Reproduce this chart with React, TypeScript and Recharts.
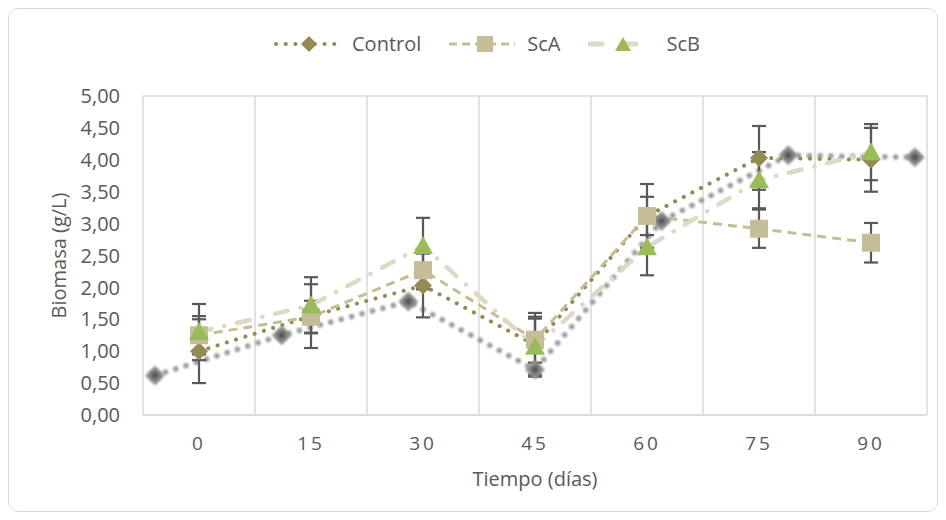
import React from "react";
import { ComposedChart, Line, XAxis, YAxis, CartesianGrid, ErrorBar } from "recharts";

const days = ["0", "15", "30", "45", "60", "75", "90"];
const control = [1.0, 1.55, 2.03, 1.1, 3.12, 4.03, 4.0];
const controlErr = [0.5, 0.5, 0.5, 0.5, 0.5, 0.5, 0.5];
const scA = [1.25, 1.54, 2.27, 1.18, 3.12, 2.92, 2.7];
const scAErr = [0.3, 0.25, 0.3, 0.36, 0.3, 0.3, 0.31];
const scB = [1.3, 1.72, 2.65, 1.07, 2.63, 3.68, 4.12];
const scBErr = [0.44, 0.44, 0.44, 0.44, 0.44, 0.44, 0.44];
// blurred drop shadow of the Control series, stretched a little wider than the plot
const shadow = [0.62, 1.25, 1.78, 0.71, 3.04, 4.07, 4.04];
const yTicks = [0, 0.5, 1, 1.5, 2, 2.5, 3, 3.5, 4, 4.5, 5];

const rows = days.map((d, i) => ({
  day: d,
  control: control[i],
  controlErr: controlErr[i],
  scA: scA[i],
  scAErr: scAErr[i],
  scB: scB[i],
  scBErr: scBErr[i],
}));
const shadowRows = shadow.map((v, i) => ({ idx: i, shadow: v }));

const FONT = "'Open Sans', sans-serif";
const TEXT = "#595959";
const GRID = "#d9d9d9";
const OLIVE = "#948a54";
const TAN = "#c4bd97";
const PALE = "#ddd9c3";
const GREEN = "#9bbb59";
const BAR = "#595959";

function diamondDot(color: string, r: number, extra?: Record<string, string>) {
  return (props: any) => {
    const { cx, cy, index } = props;
    if (cx == null || cy == null) return <g key={index} />;
    return (
      <polygon
        key={index}
        points={`${cx},${cy - r} ${cx + r},${cy} ${cx},${cy + r} ${cx - r},${cy}`}
        fill={color}
        {...extra}
      />
    );
  };
}

function squareDot(color: string, r: number) {
  return (props: any) => {
    const { cx, cy, index } = props;
    if (cx == null || cy == null) return <g key={index} />;
    return <rect key={index} x={cx - r} y={cy - r} width={r * 2} height={r * 2} fill={color} />;
  };
}

function triangleDot(color: string, r: number) {
  return (props: any) => {
    const { cx, cy, index } = props;
    if (cx == null || cy == null) return <g key={index} />;
    return (
      <polygon
        key={index}
        points={`${cx},${cy - r} ${cx + r},${cy + r * 0.8} ${cx - r},${cy + r * 0.8}`}
        fill={color}
      />
    );
  };
}

const fmt = (v: number) => v.toFixed(2).replace(".", ",");

function LegendIcon({ kind }: { kind: "control" | "scA" | "scB" }) {
  return (
    <svg width={66} height={20} style={{ display: "block" }}>
      {kind === "control" && (
        <>
          <line x1={2} y1={10} x2={64} y2={10} stroke={OLIVE} strokeWidth={4} strokeDasharray="0.1 9.6" strokeLinecap="round" />
          <polygon points="35,2 43,10 35,18 27,10" fill={OLIVE} />
        </>
      )}
      {kind === "scA" && (
        <>
          <line x1={0} y1={10} x2={66} y2={10} stroke={TAN} strokeWidth={3} strokeDasharray="8 5" />
          <rect x={28} y={2} width={16} height={16} fill={TAN} />
        </>
      )}
      {kind === "scB" && (
        <>
          <line x1={2} y1={10} x2={62} y2={10} stroke={PALE} strokeWidth={5} strokeDasharray="12 22" strokeLinecap="round" />
          <polygon points="35,3 43,17 27,17" fill={GREEN} />
        </>
      )}
    </svg>
  );
}

const legendItems: { kind: "control" | "scA" | "scB"; label: string }[] = [
  { kind: "control", label: "Control" },
  { kind: "scA", label: "ScA" },
  { kind: "scB", label: "ScB" },
];

export default function App() {
  return (
    <div
      style={{
        position: "relative",
        width: 930,
        height: 504,
        border: `1px solid ${GRID}`,
        borderRadius: 10,
        boxSizing: "border-box",
        fontFamily: FONT,
        background: "#fff",
      }}
    >
      <div
        style={{
          position: "absolute",
          top: 25,
          left: 265,
          display: "flex",
          alignItems: "center",
          fontSize: 20,
          color: TEXT,
          lineHeight: "20px",
        }}
      >
        {legendItems.map((it) => (
          <div key={it.kind} style={{ display: "flex", alignItems: "center", marginRight: 28 }}>
            <LegendIcon kind={it.kind} />
            <span style={{ marginLeft: 12 }}>{it.label}</span>
          </div>
        ))}
      </div>
      <ComposedChart width={928} height={502} data={rows} margin={{ top: 87, right: 10, bottom: 0, left: 0 }}>
        <defs>
          <filter id="softBlur" x="-50%" y="-50%" width="200%" height="200%">
            <feGaussianBlur stdDeviation="1.3" />
          </filter>
          <radialGradient id="shadowFill">
            <stop offset="0%" stopColor="#404040" />
            <stop offset="45%" stopColor="#808080" />
            <stop offset="100%" stopColor="#a6a6a6" />
          </radialGradient>
        </defs>
        <CartesianGrid
          stroke={GRID}
          strokeWidth={1.5}
          verticalCoordinatesGenerator={({ offset }: any) =>
            days.map((_, i) => offset.left + (offset.width * i) / days.length).concat(offset.left + offset.width)
          }
          horizontalCoordinatesGenerator={({ offset }: any) => [offset.top, offset.top + offset.height]}
        />
        <XAxis
          dataKey="day"
          xAxisId="main"
          scale="band"
          height={96}
          axisLine={{ stroke: GRID, strokeWidth: 1.5 }}
          tickLine={false}
          tickSize={6}
          tickMargin={16}
          tick={{ fill: TEXT, fontSize: 19, fontFamily: FONT, letterSpacing: 3 }}
          label={({ viewBox }: any) => (
            <text
              x={viewBox.x + viewBox.width / 2}
              y={viewBox.y + 71}
              textAnchor="middle"
              fill={TEXT}
              fontSize={20}
              fontFamily={FONT}
            >
              Tiempo (días)
            </text>
          )}
        />
        <XAxis xAxisId="shade" type="number" dataKey="idx" domain={[-0.095, 6.095]} allowDataOverflow hide />
        <YAxis
          domain={[0, 5]}
          ticks={yTicks}
          width={134}
          axisLine={false}
          tickLine={false}
          tickSize={6}
          tickMargin={17}
          tickFormatter={fmt}
          tick={{ fill: TEXT, fontSize: 20, fontFamily: FONT }}
          label={({ viewBox }: any) => (
            <text
              x={49}
              y={viewBox.y + viewBox.height / 2}
              transform={`rotate(-90 49 ${viewBox.y + viewBox.height / 2})`}
              textAnchor="middle"
              dominantBaseline="central"
              fill={TEXT}
              fontSize={20}
              fontFamily={FONT}
            >
              Biomasa (g/L)
            </text>
          )}
        />
        <Line
          xAxisId="shade"
          data={shadowRows}
          dataKey="shadow"
          stroke="#9a9a9a"
          strokeWidth={5.5}
          strokeDasharray="0.1 10.7"
          strokeLinecap="round"
          filter="url(#softBlur)"
          dot={diamondDot("url(#shadowFill)", 10, { filter: "url(#softBlur)" })}
          activeDot={false}
          isAnimationActive={false}
        />
        <Line xAxisId="main" dataKey="control" stroke="none" dot={false} activeDot={false} isAnimationActive={false}>
          <ErrorBar dataKey="controlErr" direction="y" width={7} stroke={BAR} strokeWidth={2.2} />
        </Line>
        <Line xAxisId="main" dataKey="scA" stroke="none" dot={false} activeDot={false} isAnimationActive={false}>
          <ErrorBar dataKey="scAErr" direction="y" width={7} stroke={BAR} strokeWidth={2.2} />
        </Line>
        <Line xAxisId="main" dataKey="scB" stroke="none" dot={false} activeDot={false} isAnimationActive={false}>
          <ErrorBar dataKey="scBErr" direction="y" width={7} stroke={BAR} strokeWidth={2.2} />
        </Line>
        <Line
          xAxisId="main"
          dataKey="control"
          stroke={OLIVE}
          strokeWidth={4}
          strokeDasharray="0.1 9.6"
          strokeLinecap="round"
          dot={diamondDot(OLIVE, 9)}
          activeDot={false}
          isAnimationActive={false}
        />
        <Line
          xAxisId="main"
          dataKey="scA"
          stroke={TAN}
          strokeWidth={3}
          strokeDasharray="9 6"
          dot={squareDot(TAN, 9)}
          activeDot={false}
          isAnimationActive={false}
        />
        <Line
          xAxisId="main"
          dataKey="scB"
          stroke={PALE}
          strokeWidth={4.5}
          strokeDasharray="13 13 0.1 13"
          strokeLinecap="round"
          dot={triangleDot(GREEN, 10)}
          activeDot={false}
          isAnimationActive={false}
        />
      </ComposedChart>
    </div>
  );
}
